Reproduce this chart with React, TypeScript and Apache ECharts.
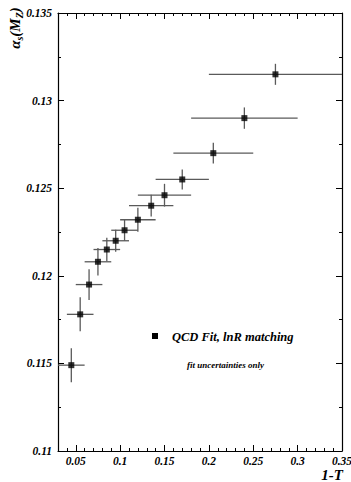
import React, { useEffect, useRef } from "react";
import * as echarts from "echarts";

// bin centres in 1-T, bin edges, fitted alpha_s and its fit uncertainty
const xVals = [0.045, 0.055, 0.065, 0.075, 0.085, 0.095, 0.105, 0.12, 0.135, 0.15, 0.17, 0.205, 0.24, 0.275];
const xLo = [0.03, 0.04, 0.05, 0.06, 0.07, 0.08, 0.09, 0.1, 0.11, 0.12, 0.14, 0.16, 0.18, 0.2];
const xHi = [0.06, 0.07, 0.08, 0.09, 0.1, 0.11, 0.12, 0.14, 0.16, 0.18, 0.2, 0.25, 0.3, 0.35];
const yVals = [0.1149, 0.1178, 0.1195, 0.1208, 0.1215, 0.122, 0.1226, 0.1232, 0.124, 0.1246, 0.1255, 0.127, 0.129, 0.1315];
const yErr = [0.00097, 0.00097, 0.00088, 0.00079, 0.00067, 0.00063, 0.0006, 0.00068, 0.00062, 0.00065, 0.00057, 0.00059, 0.00061, 0.0006];

// axis ticks
const xMajor = [0.05, 0.1, 0.15, 0.2, 0.25, 0.3, 0.35];
const xMinor = [0.03, 0.04, 0.06, 0.07, 0.08, 0.09, 0.11, 0.12, 0.13, 0.14, 0.16, 0.17, 0.18, 0.19, 0.21, 0.22, 0.23, 0.24, 0.26, 0.27, 0.28, 0.29, 0.31, 0.32, 0.33, 0.34];
const yMajor = [0.11, 0.115, 0.12, 0.125, 0.13, 0.135];
const yMinor = [0.1125, 0.1175, 0.1225, 0.1275, 0.1325];

const FONT = "'Liberation Serif', 'Times New Roman', serif";

export default function App() {
  const ref = useRef<HTMLDivElement>(null);
  useEffect(() => {
    if (!ref.current) return;
    const chart = echarts.init(ref.current, undefined, { renderer: "svg" });
    const fmt = (v: number) => String(+(+v).toFixed(3));
    const labelStyle = {
      fontFamily: FONT,
      fontWeight: "bold",
      fontStyle: "italic",
      fontSize: 11.5,
      color: "#000",
    };
    const lineStyle = { color: "#000", width: 1.2 };
    const xCommon = { type: "value", min: 0.03, max: 0.35, splitLine: { show: false }, gridIndex: 0 };
    const yCommon = { type: "value", min: 0.11, max: 0.135, splitLine: { show: false }, gridIndex: 0 };
    const errData = xVals.map((x, i) => [x, yVals[i], xLo[i], xHi[i], yVals[i] - yErr[i], yVals[i] + yErr[i]]);
    const option: any = {
      animation: false,
      backgroundColor: "#fff",
      grid: { left: 58, top: 13, right: 9, bottom: 31, outerBoundsMode: "none", containLabel: false },
      xAxis: [
        {
          ...xCommon,
          position: "bottom",
          axisLine: { show: true, lineStyle },
          axisTick: { show: true, inside: true, length: 6, customValues: xMajor, lineStyle: { color: "#000", width: 1 } },
          axisLabel: { show: true, customValues: xMajor, formatter: fmt, margin: 4, ...labelStyle },
        },
        {
          ...xCommon,
          position: "bottom",
          axisLine: { show: false },
          axisTick: { show: true, inside: true, length: 3, customValues: xMinor, lineStyle: { color: "#000", width: 1 } },
          axisLabel: { show: false },
        },
        {
          ...xCommon,
          position: "top",
          axisLine: { show: true, lineStyle },
          axisTick: { show: true, inside: true, length: 6, customValues: xMajor, lineStyle: { color: "#000", width: 1 } },
          axisLabel: { show: false },
        },
        {
          ...xCommon,
          position: "top",
          axisLine: { show: false },
          axisTick: { show: true, inside: true, length: 3, customValues: xMinor, lineStyle: { color: "#000", width: 1 } },
          axisLabel: { show: false },
        },
      ],
      yAxis: [
        {
          ...yCommon,
          position: "left",
          axisLine: { show: true, lineStyle },
          axisTick: { show: true, inside: true, length: 6, customValues: yMajor, lineStyle: { color: "#000", width: 1 } },
          axisLabel: { show: true, customValues: yMajor, formatter: fmt, margin: 6, ...labelStyle },
        },
        {
          ...yCommon,
          position: "left",
          axisLine: { show: false },
          axisTick: { show: true, inside: true, length: 3, customValues: yMinor, lineStyle: { color: "#000", width: 1 } },
          axisLabel: { show: false },
        },
        {
          ...yCommon,
          position: "right",
          axisLine: { show: true, lineStyle },
          axisTick: { show: true, inside: true, length: 6, customValues: yMajor, lineStyle: { color: "#000", width: 1 } },
          axisLabel: { show: false },
        },
        {
          ...yCommon,
          position: "right",
          axisLine: { show: false },
          axisTick: { show: true, inside: true, length: 3, customValues: yMinor, lineStyle: { color: "#000", width: 1 } },
          axisLabel: { show: false },
        },
      ],
      series: [
        {
          type: "custom",
          name: "errors",
          xAxisIndex: 0,
          yAxisIndex: 0,
          data: errData,
          renderItem: (params: any, api: any) => {
            const c = api.coord([api.value(0), api.value(1)]);
            const l = api.coord([api.value(2), api.value(1)]);
            const r = api.coord([api.value(3), api.value(1)]);
            const b = api.coord([api.value(0), api.value(4)]);
            const t = api.coord([api.value(0), api.value(5)]);
            const st = { stroke: "#5a5a5a", lineWidth: 1.3 };
            return {
              type: "group",
              children: [
                { type: "line", shape: { x1: l[0], y1: c[1], x2: r[0], y2: c[1] }, style: st },
                { type: "line", shape: { x1: c[0], y1: b[1], x2: c[0], y2: t[1] }, style: st },
              ],
            };
          },
          z: 2,
        },
        {
          type: "scatter",
          name: "QCD Fit, lnR matching",
          xAxisIndex: 0,
          yAxisIndex: 0,
          data: xVals.map((x, i) => [x, yVals[i]]),
          symbol: "rect",
          symbolSize: 6,
          itemStyle: { color: "#000" },
          z: 3,
        },
      ],
      graphic: [
        {
          type: "text",
          x: 15,
          y: 28,
          rotation: Math.PI / 2,
          style: {
            text: "{m|α}{s|s}{m|(M}{s|Z}{m|)}",
            align: "center",
            verticalAlign: "middle",
            fill: "#000",
            rich: {
              m: { fontFamily: FONT, fontWeight: "bold", fontStyle: "italic", fontSize: 15, fill: "#000", lineHeight: 18, verticalAlign: "middle" },
              s: { fontFamily: FONT, fontWeight: "bold", fontStyle: "italic", fontSize: 10, fill: "#000", lineHeight: 18, verticalAlign: "bottom", padding: [6, 0, 0, 0] },
            },
          },
        },
        {
          type: "text",
          x: 332,
          y: 475,
          style: {
            text: "1-T",
            align: "center",
            verticalAlign: "middle",
            fontFamily: FONT,
            fontWeight: "bold",
            fontStyle: "italic",
            fontSize: 15,
            fill: "#000",
          },
        },
        {
          type: "rect",
          shape: { x: 152, y: 333, width: 6, height: 6 },
          style: { fill: "#000" },
        },
        {
          type: "text",
          x: 172,
          y: 337,
          style: {
            text: "QCD Fit, lnR matching",
            align: "left",
            verticalAlign: "middle",
            fontFamily: FONT,
            fontWeight: "bold",
            fontStyle: "italic",
            fontSize: 12.5,
            fill: "#000",
          },
        },
        {
          type: "text",
          x: 187,
          y: 365,
          style: {
            text: "fit uncertainties only",
            align: "left",
            verticalAlign: "middle",
            fontFamily: FONT,
            fontWeight: "bold",
            fontStyle: "italic",
            fontSize: 9,
            fill: "#000",
          },
        },
      ],
    };
    chart.setOption(option);
    return () => chart.dispose();
  }, []);
  return <div ref={ref} style={{ position: "absolute", left: 0, top: 0, width: 351, height: 482 }} />;
}
